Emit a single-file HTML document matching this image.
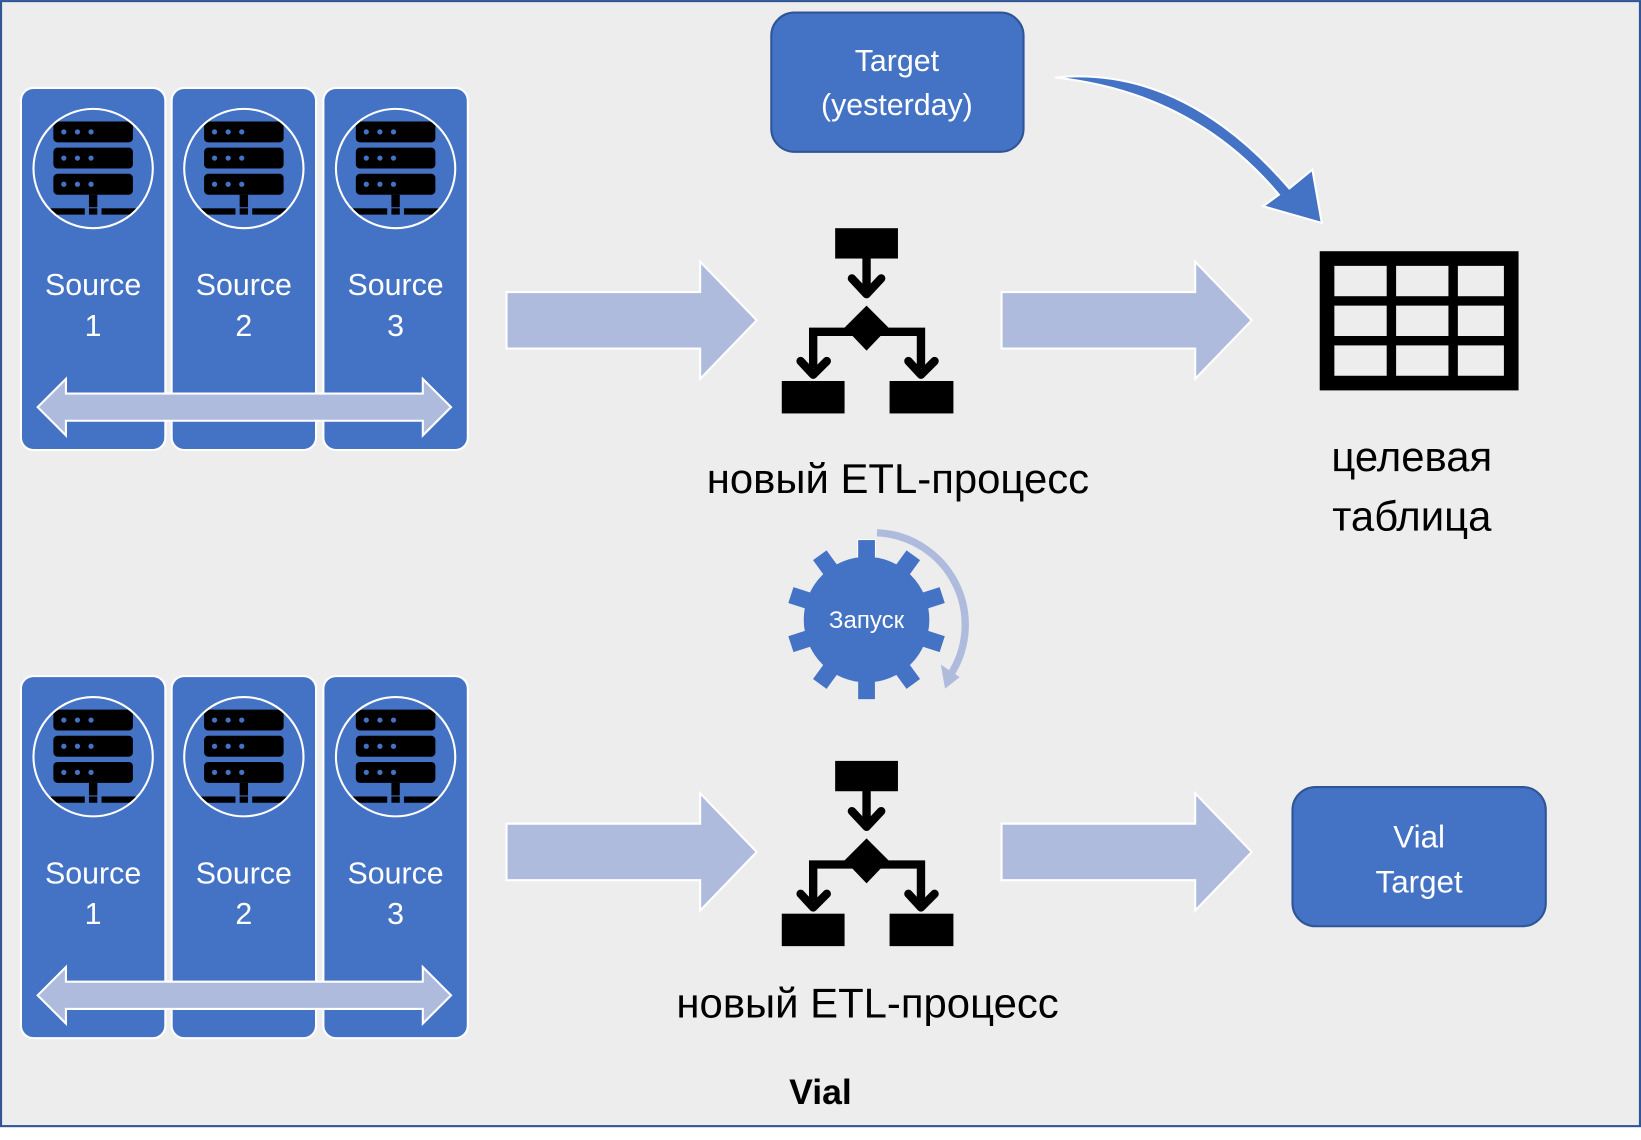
<!DOCTYPE html>
<html><head><meta charset="utf-8"><style>
html,body{margin:0;padding:0;background:#fff;}
svg{display:block;}
text{font-family:"Liberation Sans",sans-serif;}
</style></head><body>
<svg width="1641" height="1140" viewBox="0 0 1568 1089.2" xmlns="http://www.w3.org/2000/svg">
<defs>
  <clipPath id="c1"><circle cx="0" cy="0" r="57"/></clipPath>
  <g id="srv">
    <g clip-path="url(#c1)">
      <rect x="-38" y="-45" width="76" height="20" rx="4" fill="#000"/>
      <rect x="-38" y="-20" width="76" height="20" rx="4" fill="#000"/>
      <rect x="-38" y="5" width="76" height="20" rx="4" fill="#000"/>
      <g fill="#4472c4">
        <circle cx="-28" cy="-35" r="2.5"/><circle cx="-15" cy="-35" r="2.5"/><circle cx="-2" cy="-35" r="2.5"/>
        <circle cx="-28" cy="-10" r="2.5"/><circle cx="-15" cy="-10" r="2.5"/><circle cx="-2" cy="-10" r="2.5"/>
        <circle cx="-28" cy="15" r="2.5"/><circle cx="-15" cy="15" r="2.5"/><circle cx="-2" cy="15" r="2.5"/>
      </g>
      <rect x="-4" y="25" width="8" height="12" fill="#000"/>
      <rect x="-70" y="38" width="62" height="6" fill="#000"/>
      <rect x="8" y="38" width="62" height="6" fill="#000"/>
      <rect x="-4" y="38" width="8" height="6" fill="#000"/>
    </g>
    <circle cx="0" cy="0" r="57" fill="none" stroke="#fff" stroke-width="2"/>
  </g>
  <g id="sources">
    <rect x="20" y="0" width="138" height="346" rx="12" fill="#4472c4" stroke="#fff" stroke-width="2"/>
    <rect x="164" y="0" width="138" height="346" rx="12" fill="#4472c4" stroke="#fff" stroke-width="2"/>
    <rect x="309" y="0" width="138" height="346" rx="12" fill="#4472c4" stroke="#fff" stroke-width="2"/>
    <use href="#srv" x="89" y="77"/>
    <use href="#srv" x="233" y="77"/>
    <use href="#srv" x="378" y="77"/>
    <g fill="#fff" font-size="29" text-anchor="middle">
      <text x="89" y="198">Source</text><text x="89" y="237">1</text>
      <text x="233" y="198">Source</text><text x="233" y="237">2</text>
      <text x="378" y="198">Source</text><text x="378" y="237">3</text>
    </g>
    <polygon points="36,305 63,278 63,292 404,292 404,278 431,305 404,332 404,318 63,318 63,332" fill="#aebbdd" stroke="#fff" stroke-width="2"/>
  </g>
  <g id="bigarrow">
    <polygon points="0,-27 185,-27 185,-56 239,0 185,56 185,27 0,27" fill="#aebbdd" stroke="#fff" stroke-width="2"/>
  </g>
  <g id="etl" fill="#000">
    <rect x="798" y="218" width="60" height="29"/>
    <rect x="824" y="246" width="8" height="30"/>
    <polyline points="814,266 828,281 842,266" fill="none" stroke="#000" stroke-width="8" stroke-linecap="round" stroke-linejoin="round"/>
    <polygon points="828,292 849,313 828,335 807,313"/>
    <polyline points="777,352 777,317 880,317 880,352" fill="none" stroke="#000" stroke-width="8"/>
    <polyline points="765,345 777,358 790,345" fill="none" stroke="#000" stroke-width="8" stroke-linecap="round" stroke-linejoin="round"/>
    <polyline points="868,345 880,358 893,345" fill="none" stroke="#000" stroke-width="8" stroke-linecap="round" stroke-linejoin="round"/>
    <rect x="747" y="364" width="60" height="31"/>
    <rect x="850" y="364" width="61" height="31"/>
  </g>
</defs>

<rect x="0" y="0" width="1568" height="1089.2" fill="#fff"/>
<rect x="1" y="1" width="1566" height="1075" fill="#ededed" stroke="#2f5597" stroke-width="2"/>

<use href="#sources" x="0" y="84"/>
<use href="#sources" x="0" y="646"/>

<use href="#bigarrow" x="484" y="306"/>
<use href="#bigarrow" x="957" y="306"/>
<use href="#bigarrow" x="484" y="814"/>
<use href="#bigarrow" x="957" y="814"/>

<use href="#etl" x="0" y="0"/>
<use href="#etl" x="0" y="509"/>

<text x="858" y="471" font-size="40" text-anchor="middle" fill="#000">новый ETL-процесс</text>
<text x="829" y="972" font-size="40" text-anchor="middle" fill="#000">новый ETL-процесс</text>

<!-- table icon -->
<rect x="1261" y="240" width="190" height="133" fill="#000"/>
<g fill="#ededed">
  <rect x="1275" y="254" width="50" height="29"/><rect x="1334" y="254" width="50" height="29"/><rect x="1393" y="254" width="44" height="29"/>
  <rect x="1275" y="292" width="50" height="29"/><rect x="1334" y="292" width="50" height="29"/><rect x="1393" y="292" width="44" height="29"/>
  <rect x="1275" y="330" width="50" height="29"/><rect x="1334" y="330" width="50" height="29"/><rect x="1393" y="330" width="44" height="29"/>
</g>
<text x="1349" y="450" font-size="40" text-anchor="middle" fill="#000">целевая</text>
<text x="1349" y="507" font-size="40" text-anchor="middle" fill="#000">таблица</text>

<!-- target yesterday -->
<rect x="737" y="12" width="241" height="133" rx="22" fill="#4472c4" stroke="#2f5597" stroke-width="2"/>
<text x="857" y="68" font-size="29" text-anchor="middle" fill="#fff">Target</text>
<text x="857" y="110" font-size="29" text-anchor="middle" fill="#fff">(yesterday)</text>

<!-- curved arrow -->
<path d="M1008,74 Q1130,62 1232,180 L1254,162 L1263,213 L1207,197 L1222,186 Q1140,88 1008,74 Z" fill="#4472c4" stroke="#fff" stroke-width="2"/>

<!-- gear -->
<g transform="translate(828,592)">
  <g fill="#4472c4" stroke="#fff" stroke-width="2">
    <g id="teeth">
      <rect x="-8" y="-76" width="16" height="24"/>
    </g>
  </g>
  <g fill="#4472c4">
    <rect x="-8" y="-76" width="16" height="26" transform="rotate(0)"/>
    <rect x="-8" y="-76" width="16" height="26" transform="rotate(36)"/>
    <rect x="-8" y="-76" width="16" height="26" transform="rotate(72)"/>
    <rect x="-8" y="-76" width="16" height="26" transform="rotate(108)"/>
    <rect x="-8" y="-76" width="16" height="26" transform="rotate(144)"/>
    <rect x="-8" y="-76" width="16" height="26" transform="rotate(180)"/>
    <rect x="-8" y="-76" width="16" height="26" transform="rotate(216)"/>
    <rect x="-8" y="-76" width="16" height="26" transform="rotate(252)"/>
    <rect x="-8" y="-76" width="16" height="26" transform="rotate(288)"/>
    <rect x="-8" y="-76" width="16" height="26" transform="rotate(324)"/>
    <circle r="60"/>
  </g>
  <text x="0" y="8" font-size="23" text-anchor="middle" fill="#fff">Запуск</text>
</g>
<path d="M838,509 A88,88 0 0 1 908,645" fill="none" stroke="#aebbdd" stroke-width="7"/>
<polygon points="899,635 917,647 903,658" fill="#aebbdd"/>

<!-- vial target -->
<rect x="1235" y="752" width="242" height="133" rx="22" fill="#4472c4" stroke="#2f5597" stroke-width="2"/>
<text x="1356" y="810" font-size="30" text-anchor="middle" fill="#fff">Vial</text>
<text x="1356" y="853" font-size="30" text-anchor="middle" fill="#fff">Target</text>

<text x="784" y="1055" font-size="34" font-weight="bold" text-anchor="middle" fill="#000">Vial</text>
</svg>
</body></html>
